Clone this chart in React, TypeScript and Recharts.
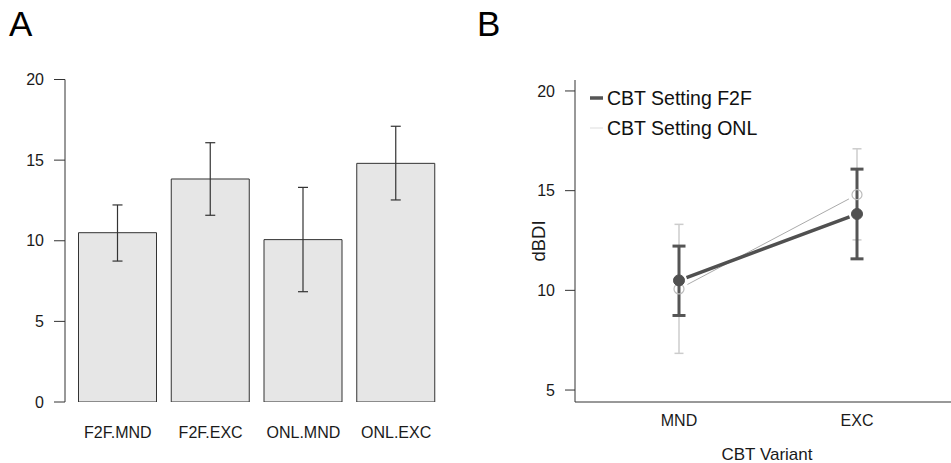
import {
  BarChart,
  Bar,
  LineChart,
  Line,
  XAxis,
  YAxis,
  ErrorBar,
  Legend,
  Label,
} from "recharts";

// group means with lower / upper interval bounds (dBDI)
const conditions = ["F2F.MND", "F2F.EXC", "ONL.MND", "ONL.EXC"];
const means = [10.5, 13.83, 10.07, 14.8];
const lower = [8.74, 11.58, 6.84, 12.53];
const upper = [12.22, 16.08, 13.31, 17.1];

const variants = ["MND", "EXC"];
const barTicks = [0, 5, 10, 15, 20];
const lineTicks = [5, 10, 15, 20];

const FONT = "'Liberation Sans', Arial, sans-serif";
const INK = "#1a1a1a";

const barRows = conditions.map((name, i) => ({
  name,
  mean: means[i],
  err: [means[i] - lower[i], upper[i] - means[i]],
}));

const lineRows = variants.map((name) => {
  const a = conditions.indexOf(`F2F.${name}`);
  const b = conditions.indexOf(`ONL.${name}`);
  return {
    name,
    f2f: means[a],
    f2fErr: [means[a] - lower[a], upper[a] - means[a]],
    onl: means[b],
    onlErr: [means[b] - lower[b], upper[b] - means[b]],
  };
});

const legendItems = [
  { label: "CBT Setting F2F", color: "#555", width: 3.5 },
  { label: "CBT Setting ONL", color: "#ddd", width: 1 },
];

const SettingLegend = () => (
  <div style={{ fontFamily: FONT, fontSize: 19.5, color: "#111" }}>
    {legendItems.map((it) => (
      <div
        key={it.label}
        style={{ display: "flex", alignItems: "center", height: 30 }}
      >
        <svg width={15} height={30}>
          <line
            x1={0}
            x2={13}
            y1={15}
            y2={15}
            stroke={it.color}
            strokeWidth={it.width}
          />
        </svg>
        <span style={{ marginLeft: 2 }}>{it.label}</span>
      </div>
    ))}
  </div>
);

const YTitle = ({ viewBox }: any) => {
  const x = viewBox.x + 68.5;
  const y = viewBox.y + viewBox.height / 2;
  return (
    <text
      x={x}
      y={y}
      transform={`rotate(-90, ${x}, ${y})`}
      textAnchor="middle"
      dominantBaseline="central"
      fontSize={18.5}
      fill={INK}
      fontFamily={FONT}
    >
      dBDI
    </text>
  );
};

const panelTitle = (left: number): any => ({
  position: "absolute",
  left,
  top: 6,
  fontSize: 35,
  lineHeight: "35px",
  fontFamily: FONT,
  color: "#000",
});

export default function App() {
  return (
    <div
      style={{
        position: "absolute",
        left: 0,
        top: 0,
        width: 951,
        height: 463,
        overflow: "hidden",
        background: "#fff",
        fontFamily: FONT,
      }}
    >
      <div style={panelTitle(9)}>A</div>
      <div style={panelTitle(477)}>B</div>

      <div style={{ position: "absolute", left: 0, top: 0 }}>
        <BarChart
          width={470}
          height={463}
          data={barRows}
          margin={{ top: 79.5, right: 27.5, bottom: 21, left: 0 }}
        >
          <XAxis
            dataKey="name"
            height={40}
            axisLine={false}
            tickLine={false}
            tickSize={0}
            tickMargin={25}
            padding={{ left: 6.5, right: 0 }}
            tick={{ fill: INK, fontSize: 16 }}
            interval={0}
          />
          <YAxis
            width={65}
            domain={[0, 20]}
            ticks={barTicks}
            tickSize={11}
            tickMargin={10}
            stroke="#333"
            tick={{ fill: INK, fontSize: 16 }}
            allowDataOverflow
          />
          <Bar
            dataKey="mean"
            barSize={78}
            fill="#e6e6e6"
            stroke="#333"
            strokeWidth={1}
            isAnimationActive={false}
          >
            <ErrorBar
              dataKey="err"
              width={5}
              stroke="#333"
              strokeWidth={1.2}
              isAnimationActive={false}
            />
          </Bar>
        </BarChart>
      </div>

      <div style={{ position: "absolute", left: 470, top: 0 }}>
        <LineChart
          width={481}
          height={463}
          data={lineRows}
          margin={{ top: 80, right: 0, bottom: 21, left: 0 }}
        >
          <XAxis
            dataKey="name"
            height={40}
            stroke="#333"
            tickLine={false}
            tickSize={0}
            tickMargin={13}
            padding={{ left: 104, right: 94 }}
            tick={{ fill: INK, fontSize: 16 }}
          >
            <Label
              value="CBT Variant"
              position="bottom"
              offset={5.5}
              dx={4}
              fontSize={17}
              fill={INK}
            />
          </XAxis>
          <YAxis
            width={105}
            domain={[4.4, 20.55]}
            ticks={lineTicks}
            tickSize={10}
            tickMargin={10}
            stroke="#333"
            tick={{ fill: INK, fontSize: 16 }}
            allowDataOverflow
          >
            <Label content={YTitle} />
          </YAxis>
          <Legend
            layout="vertical"
            align="center"
            verticalAlign="middle"
            wrapperStyle={{ top: 83, left: 120, width: 220 }}
            content={SettingLegend}
          />
          {/* segments stop short of the points, like a type="b" plot */}
          <Line
            dataKey="onl"
            name="CBT Setting ONL"
            stroke="#aaa"
            strokeWidth={1}
            strokeDasharray="0 9.5 182.8 9.5"
            dot={{ r: 5, fill: "none", stroke: "#bbb", strokeWidth: 1.2, strokeDasharray: "none" }}
            activeDot={false}
            isAnimationActive={false}
          >
            <ErrorBar
              dataKey="onlErr"
              width={4.5}
              stroke="#ccc"
              strokeWidth={1.5}
              isAnimationActive={false}
            />
          </Line>
          <Line
            dataKey="f2f"
            name="CBT Setting F2F"
            stroke="#505050"
            strokeWidth={3.5}
            strokeDasharray="0 8 174 8"
            dot={{ r: 5.5, fill: "#505050", stroke: "#505050", strokeWidth: 1, strokeDasharray: "none" }}
            activeDot={false}
            isAnimationActive={false}
          >
            <ErrorBar
              dataKey="f2fErr"
              width={6.5}
              stroke="#555"
              strokeWidth={3}
              isAnimationActive={false}
            />
          </Line>
        </LineChart>
      </div>
    </div>
  );
}
